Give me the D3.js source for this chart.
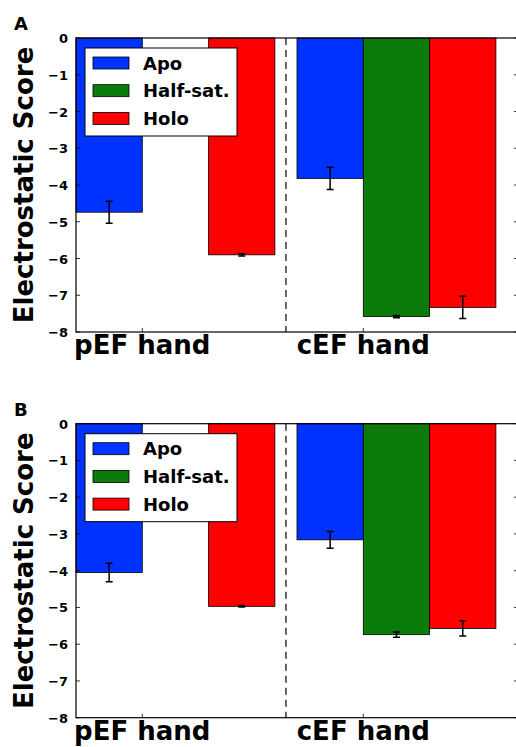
<!DOCTYPE html>
<html>
<head>
<meta charset="utf-8">
<script src="https://cdn.jsdelivr.net/npm/d3@7"></script>
<style>
  body { margin: 0; background: #fff; }
  svg { display: block; font-family: "DejaVu Sans", sans-serif; font-weight: bold; }
</style>
</head>
<body>
<div id="chart"></div>
<script>
// data
var groups = ["pEF hand", "cEF hand"];
var states = ["Apo", "Half-sat.", "Holo"];
var colors = ["#0033ff", "#0b7b0b", "#ff0000"];
var yTicks = [0, -1, -2, -3, -4, -5, -6, -7, -8];

// panel A: values per group [Apo, Half-sat., Holo], errors the same way
var valuesA = [[-4.74, 0, -5.9], [-3.82, -7.58, -7.33]];
var errorsA = [[0.3, 0, 0.03], [0.3, 0.03, 0.3]];
// panel B
var valuesB = [[-4.05, 0, -4.97], [-3.16, -5.74, -5.57]];
var errorsB = [[0.25, 0, 0.02], [0.23, 0.07, 0.21]];

var W = 516, H = 747;
var svg = d3.select("#chart").append("svg").attr("width", W).attr("height", H);

var barW = 0.3;
var x = d3.scaleLinear().domain([0, 2]).range([76, 518]);

function panel(top, letter, values, errors) {
  var height = 294;
  var g = svg.append("g").attr("transform", "translate(0," + top + ")");
  var y = d3.scaleLinear().domain([0, -8]).range([0, height]);

  // bars
  values.forEach(function (vals, gi) {
    vals.forEach(function (v, si) {
      var x0 = gi + si * barW;
      if (v !== 0) {
        g.append("rect")
          .attr("x", x(x0))
          .attr("y", y(0))
          .attr("width", x(x0 + barW) - x(x0))
          .attr("height", y(v) - y(0))
          .attr("fill", colors[si])
          .attr("stroke", "#000")
          .attr("stroke-width", 0.8);
        var cx = x(x0 + barW / 2), e = errors[gi][si];
        g.append("path")
          .attr("d", "M" + cx + "," + y(v - e) + "V" + y(v + e) +
            "M" + (cx - 3.5) + "," + y(v - e) + "H" + (cx + 3.5) +
            "M" + (cx - 3.5) + "," + y(v + e) + "H" + (cx + 3.5))
          .attr("stroke", "#000").attr("stroke-width", 1.5).attr("fill", "none");
      }
    });
  });

  // dashed separator
  g.append("line")
    .attr("x1", x(0.95)).attr("x2", x(0.95))
    .attr("y1", 0).attr("y2", height)
    .attr("stroke", "#000").attr("stroke-width", 1.2)
    .attr("stroke-dasharray", "7,5");

  // frame
  g.append("rect")
    .attr("x", x(0)).attr("y", 0)
    .attr("width", x(2) - x(0)).attr("height", height)
    .attr("fill", "none").attr("stroke", "#000").attr("stroke-width", 1.2);

  // y ticks (inside, both sides)
  yTicks.forEach(function (t) {
    g.append("line").attr("x1", x(0)).attr("x2", x(0) + 4)
      .attr("y1", y(t)).attr("y2", y(t)).attr("stroke", "#000").attr("stroke-width", 0.8);
    g.append("line").attr("x1", x(2)).attr("x2", x(2) - 4)
      .attr("y1", y(t)).attr("y2", y(t)).attr("stroke", "#000").attr("stroke-width", 0.8);
    g.append("text")
      .attr("x", 68).attr("y", y(t) + 5)
      .attr("text-anchor", "end")
      .style("font-size", "13px")
      .text(t === 0 ? "0" : "\u2212" + Math.abs(t));
  });

  // x ticks + labels
  groups.forEach(function (name, gi) {
    var tx = x(gi + barW);
    g.append("line").attr("x1", tx).attr("x2", tx)
      .attr("y1", height).attr("y2", height - 4).attr("stroke", "#000").attr("stroke-width", 0.8);
    g.append("text")
      .attr("x", tx).attr("y", height + 22)
      .attr("text-anchor", "middle")
      .style("font-size", "26px")
      .text(name);
  });

  // y label
  g.append("text")
    .attr("transform", "translate(33," + (height / 2) + ") rotate(-90)")
    .attr("text-anchor", "middle")
    .style("font-size", "26px")
    .text("Electrostatic Score");

  // panel letter
  svg.append("text")
    .attr("x", 14).attr("y", top - 8)
    .style("font-size", "18px")
    .text(letter);

  // legend
  var lg = g.append("g").attr("transform", "translate(85,10)");
  lg.append("rect").attr("width", 152).attr("height", 88)
    .attr("fill", "#fff").attr("stroke", "#000").attr("stroke-width", 1);
  states.forEach(function (s, i) {
    var cy = 15 + i * 27.7;
    lg.append("rect")
      .attr("x", 8).attr("y", cy - 6).attr("width", 36).attr("height", 12)
      .attr("fill", colors[i]).attr("stroke", "#000").attr("stroke-width", 0.8);
    lg.append("text")
      .attr("x", 58).attr("y", cy + 6.5)
      .style("font-size", "18px")
      .text(s);
  });
}

panel(38, "A", valuesA, errorsA);
panel(423.7, "B", valuesB, errorsB);
</script>
</body>
</html>
